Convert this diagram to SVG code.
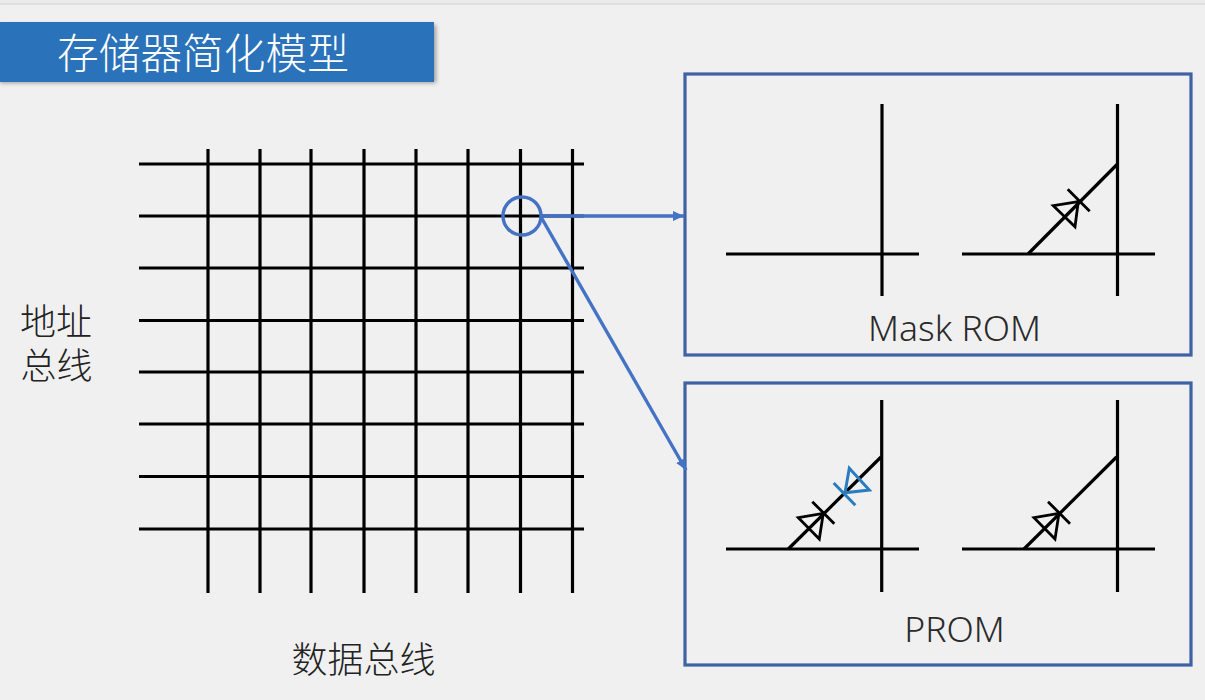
<svg xmlns="http://www.w3.org/2000/svg" width="1205" height="700" viewBox="0 0 1205 700">
<style>
.cjk{font-family:"Noto Sans CJK SC","Noto Sans",sans-serif;font-weight:300}
.lab{font-size:36px;fill:#222;text-anchor:middle}
.lat{font-family:"Noto Sans","Noto Sans CJK SC",sans-serif;font-weight:300;font-size:35.500px;fill:#2a2a2a;text-anchor:middle}
.grid line{stroke:#000;stroke-width:3.2;fill:none}
.w line,.w path{stroke:#000;stroke-width:3.2;fill:none}
.d{stroke:#000;stroke-width:2.8;fill:none}
.b{stroke:#2a7cc0;stroke-width:3;fill:none}
.frame{fill:none;stroke:#3f62a3;stroke-width:3.2}
.conn{stroke:#4472c4;stroke-width:3.4;fill:none}
</style>
<defs>
<marker id="ah" markerUnits="userSpaceOnUse" markerWidth="12" markerHeight="12" refX="11" refY="6" orient="auto"><path d="M0 1L11 6L0 11Z" fill="#4472c4"/></marker>
<filter id="sh" x="-5%" y="-20%" width="110%" height="140%"><feGaussianBlur stdDeviation="2"/></filter>
</defs>
<rect width="1205" height="700" fill="#f0f0f0"/>
<rect width="1205" height="4" fill="#ebebeb"/>
<rect y="3.500" width="1205" height="1" fill="#d2d2d2"/>
<g id="title">
<rect x="0" y="25" width="436" height="58" fill="#555" opacity=".55" filter="url(#sh)"/>
<rect x="0" y="22" width="434" height="60" fill="#2a72ba"/>
<text x="203" y="69" class="cjk" font-size="41.700" fill="#fff" text-anchor="middle">存储器简化模型</text>
</g>
<g id="grid" class="grid">
<line x1="139" y1="164" x2="584" y2="164"/>
<line x1="139" y1="216" x2="584" y2="216"/>
<line x1="139" y1="268" x2="584" y2="268"/>
<line x1="139" y1="320.500" x2="584" y2="320.500"/>
<line x1="139" y1="372" x2="584" y2="372"/>
<line x1="139" y1="424" x2="584" y2="424"/>
<line x1="139" y1="476.500" x2="584" y2="476.500"/>
<line x1="139" y1="529" x2="584" y2="529"/>
<line x1="208" y1="149" x2="208" y2="593"/>
<line x1="260" y1="149" x2="260" y2="593"/>
<line x1="311" y1="149" x2="311" y2="593"/>
<line x1="364" y1="149" x2="364" y2="593"/>
<line x1="416" y1="149" x2="416" y2="593"/>
<line x1="468" y1="149" x2="468" y2="593"/>
<line x1="520.500" y1="149" x2="520.500" y2="593"/>
<line x1="572.500" y1="149" x2="572.500" y2="593"/>
</g>
<g id="label-address"><text class="cjk lab"><tspan x="56" y="335">地址</tspan><tspan x="56.500" y="379">总线</tspan></text></g>
<g id="label-data"><text x="363.500" y="673" class="cjk lab">数据总线</text></g>
<g id="mask-rom">
<rect x="685" y="74" width="506" height="281" class="frame"/>
<g class="w">
<line x1="882" y1="104" x2="882" y2="296"/><line x1="726" y1="254" x2="919" y2="254"/>
<line x1="1117.500" y1="104" x2="1117.500" y2="296"/><line x1="962" y1="254" x2="1155" y2="254"/>
<line x1="1028" y1="254" x2="1117" y2="164.500"/>
</g>
<path class="d" d="M1067.700 189.300L1089.700 211.300M1078.300 201.700L1053.300 205.700L1075 226.700Z"/>
<text x="954.500" y="341" class="lat">Mask ROM</text>
</g>
<g id="prom">
<rect x="685" y="383" width="506" height="282" class="frame"/>
<g class="w">
<line x1="881.700" y1="400" x2="881.700" y2="592"/><line x1="726" y1="549" x2="919" y2="549"/>
<line x1="1117.500" y1="400" x2="1117.500" y2="592"/><line x1="962" y1="549" x2="1155" y2="549"/>
<line x1="788.300" y1="549" x2="881" y2="457"/>
<line x1="1024" y1="549" x2="1116.500" y2="457"/>
</g>
<path class="d" d="M812.300 501.700L834.300 523.700M823.300 513.300L798.300 517.700L819.300 539Z"/>
<path class="d" d="M1048 501.700L1070 523.700M1059 513.300L1034 517.700L1055 539Z"/>
<path class="b" d="M833.700 483L855.300 505.300M845 492.700L849.300 468.300L869.300 490Z"/>
<text x="954.500" y="642" class="lat">PROM</text>
</g>
<g id="connectors">
<circle cx="522" cy="216" r="19" class="conn"/>
<line x1="541" y1="216" x2="684" y2="216" class="conn" marker-end="url(#ah)"/>
<line x1="541" y1="217" x2="686" y2="470" class="conn" marker-end="url(#ah)"/>
</g>
</svg>
